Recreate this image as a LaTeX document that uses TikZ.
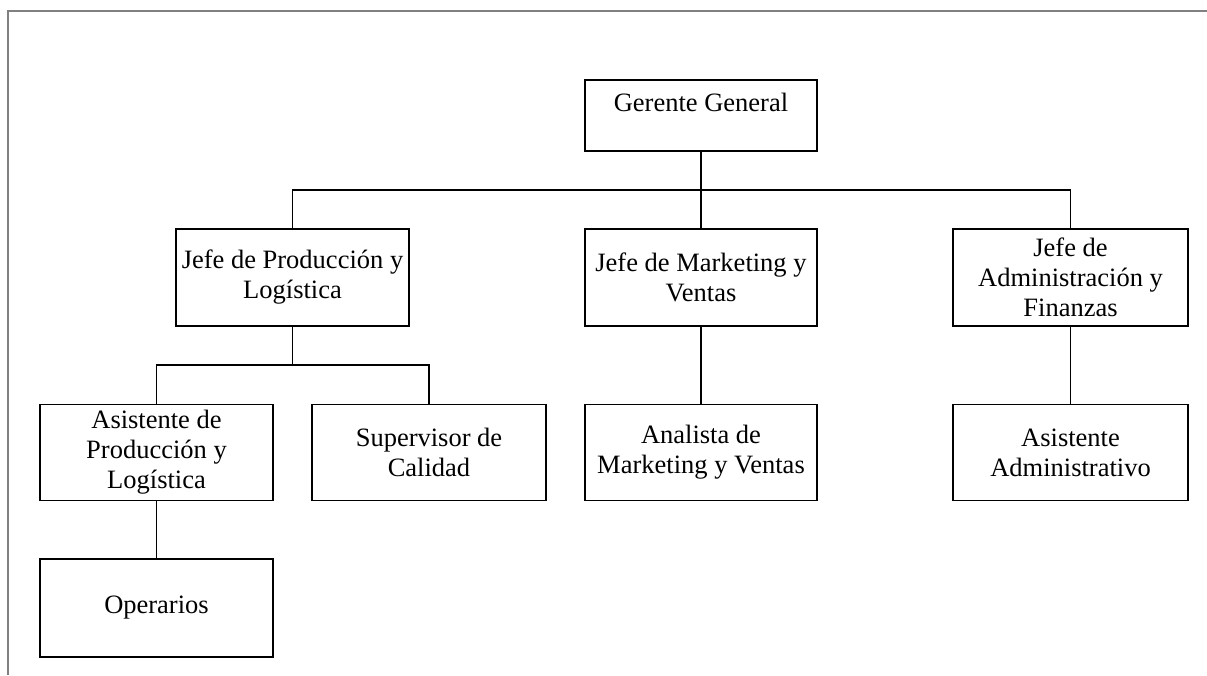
\documentclass[tikz,border=0pt]{standalone}
\usepackage{fontspec}
\setmainfont{Liberation Serif}
\begin{document}
\begin{tikzpicture}[x=1pt,y=-1pt,
  box/.style={draw=black,line width=1.8pt,rectangle,inner sep=0pt,
    align=center,font=\fontsize{26.5}{30}\selectfont},
  link/.style={draw=black,line width=1.8pt},
  frame/.style={draw=black!50,line width=2pt}]
  \useasboundingbox (0,0) rectangle (1207,675);
  % page frame (top and left edges only)
  \draw[frame] (8,675) -- (8,11) -- (1207,11);

  % top level (text sits a little above the middle)
  \node[box,minimum width=232pt,minimum height=71pt,text height=18pt,text depth=25.6pt] (gg) at (701,115.5) {Gerente General};

  % department heads
  \node[box,minimum width=233pt,minimum height=97pt] (jp) at (292.5,277.5) {Jefe de Producción y\\Logística};
  \node[box,minimum width=232pt,minimum height=97pt] (jm) at (701,277.5) {Jefe de Marketing y\\Ventas};
  \node[box,minimum width=235pt,minimum height=97pt] (ja) at (1070.5,277.5) {Jefe de\\Administración y\\Finanzas};

  % staff
  \node[box,minimum width=233pt,minimum height=96pt] (ap) at (156.5,452.5) {Asistente de\\Producción y\\Logística};
  \node[box,minimum width=234pt,minimum height=96pt] (sc) at (429,452.5) {Supervisor de\\Calidad};
  \node[box,minimum width=232pt,minimum height=96pt] (am) at (701,452.5) {Analista de\\Marketing y Ventas};
  \node[box,minimum width=235pt,minimum height=96pt] (aa) at (1070.5,452.5) {Asistente\\Administrativo};
  \node[box,minimum width=233pt,minimum height=98pt] (op) at (156.5,608) {Operarios};

  % connectors
  \coordinate (bus1) at (701,190);
  \coordinate (bus2) at (292.5,365);
  \draw[link] (gg.south) -- (jm.north);
  \draw[link] (jp.north) |- (bus1) -| (ja.north);
  \draw[link] (jp.south) -- (bus2);
  \draw[link] (ap.north) |- (bus2) -| (sc.north);
  \draw[link] (jm.south) -- (am.north);
  \draw[link] (ja.south) -- (aa.north);
  \draw[link] (ap.south) -- (op.north);
\end{tikzpicture}
\end{document}
